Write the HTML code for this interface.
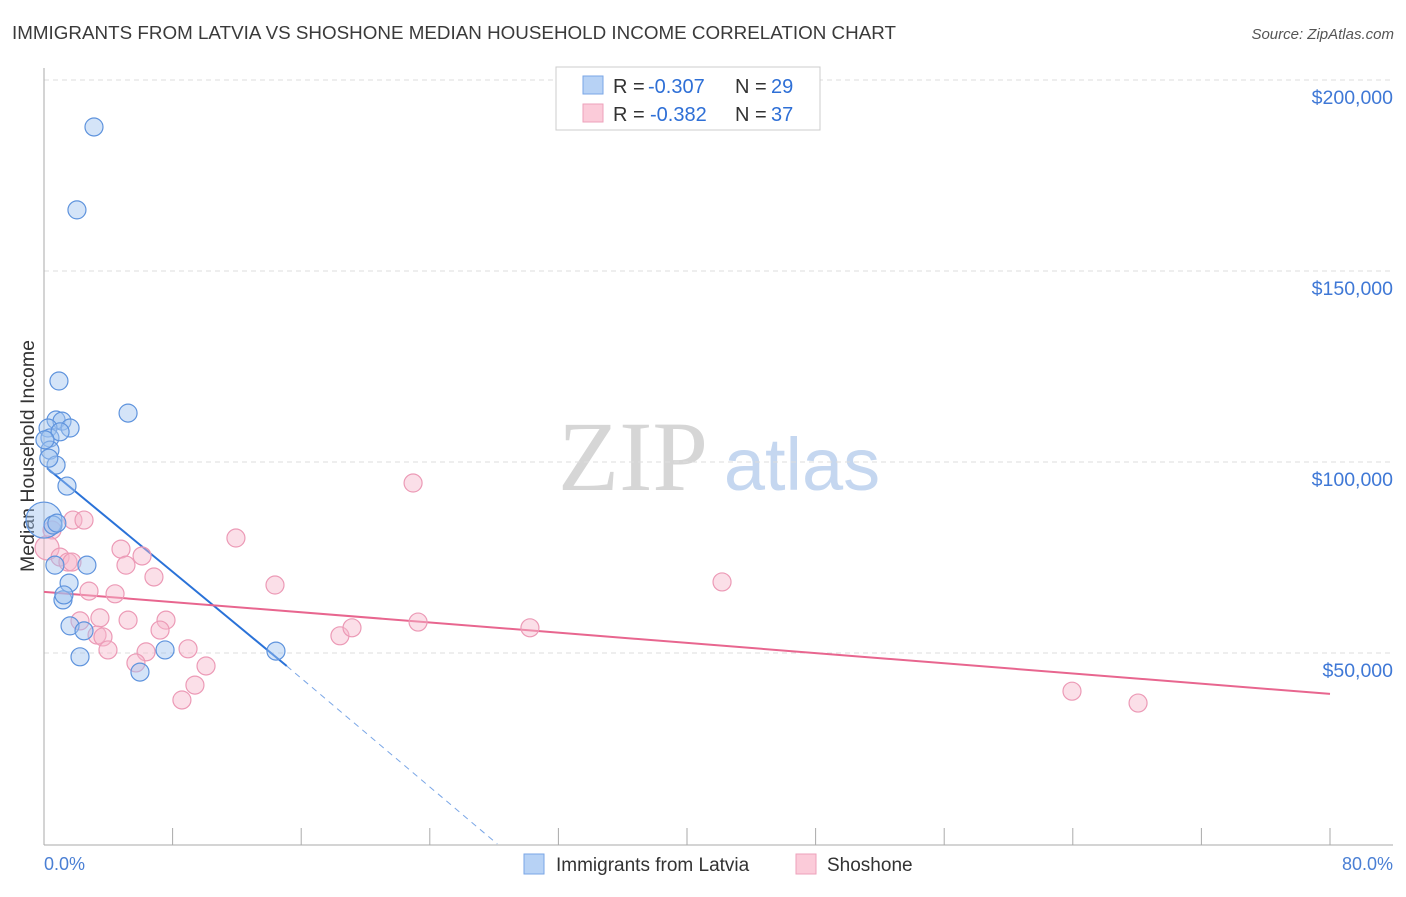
<!DOCTYPE html>
<html><head><meta charset="utf-8"><style>
body{margin:0;background:#fff;font-family:"Liberation Sans",sans-serif;}
</style></head><body>
<svg width="1406" height="892" xmlns="http://www.w3.org/2000/svg" style="font-family:'Liberation Sans',sans-serif">
<text x="12" y="39" font-size="18.8" fill="#3a3a3a" textLength="884">IMMIGRANTS FROM LATVIA VS SHOSHONE MEDIAN HOUSEHOLD INCOME CORRELATION CHART</text>
<text x="1394" y="39" font-size="15" fill="#555" font-style="italic" text-anchor="end">Source: ZipAtlas.com</text>
<g>
<text x="633" y="490" style="font-family:'Liberation Serif',serif;font-size:100px" fill="#d6d6d6" text-anchor="middle">ZIP</text>
<text x="802" y="490" style="font-size:74px" fill="#c5d7f0" text-anchor="middle">atlas</text>
</g>
<g id="grid"></g>
<g id="axes"></g>
<text transform="translate(34,456) rotate(-90)" font-size="19.5" fill="#333" text-anchor="middle">Median Household Income</text>
<text x="44" y="870" font-size="18" fill="#4a7fd4">0.0%</text>
<text x="1393" y="870" font-size="18" fill="#4a7fd4" text-anchor="end">80.0%</text>
<g id="lines"></g>
<g id="pts"></g>
<g>
<rect x="556" y="67" width="264" height="63" fill="#fff" stroke="#ccc"/>
<rect x="583" y="76" width="20" height="18" fill="#b7d2f5" stroke="#7aa6e6"/>
<rect x="583" y="104" width="20" height="18" fill="#fbcbd9" stroke="#eea1bb"/>
<text x="613" y="93" font-size="20" fill="#333">R =</text>
<text x="648" y="93" font-size="20" fill="#2e6fd6">-0.307</text>
<text x="735" y="93" font-size="20" fill="#333">N =</text>
<text x="771" y="93" font-size="20" fill="#2e6fd6">29</text>
<text x="613" y="121" font-size="20" fill="#333">R =</text>
<text x="650" y="121" font-size="20" fill="#2e6fd6">-0.382</text>
<text x="735" y="121" font-size="20" fill="#333">N =</text>
<text x="771" y="121" font-size="20" fill="#2e6fd6">37</text>
</g>
<g>
<rect x="524" y="854" width="20" height="20" fill="#b7d2f5" stroke="#7aa6e6"/>
<text x="556" y="871" font-size="19" fill="#333">Immigrants from Latvia</text>
<rect x="796" y="854" width="20" height="20" fill="#fbcbd9" stroke="#eea1bb"/>
<text x="827" y="871" font-size="19" fill="#333">Shoshone</text>
</g>
</svg>
<script>
const yTicks=[50000,100000,150000,200000];
const yTickLabels=["$50,000","$100,000","$150,000","$200,000"];
const latviaX=[3.11,2.05,0.93,5.23,0.75,1.12,1.62,0.25,0.37,0.37,0.75,1.43,0,0.56,0.68,2.67,1.56,1.18,1.24,1.62,2.49,2.24,7.53,5.97,14.43,1.0,0.06,0.3,0.8];
const latviaY=[187700,166000,121200,112800,111000,110700,108900,108900,106300,103100,99200,93700,84800,83500,73000,73000,68300,63900,65200,57100,55800,49000,50800,45000,50500,107900,105800,101000,84000];
const shoX=[0.5,1.8,2.49,0.19,1.0,1.49,1.74,4.79,6.1,5.1,6.84,11.94,22.96,14.37,2.8,4.42,3.48,2.24,5.23,7.59,7.22,3.3,3.67,3.98,6.35,8.96,5.72,10.08,9.39,8.58,18.41,19.16,23.27,30.23,42.18,63.95,68.06];
const shoY=[82200,84800,84800,77500,75100,73800,73800,77200,75400,73000,69900,80100,94500,67800,66200,65500,59200,58400,58600,58600,56000,54700,54200,50800,50300,51100,47400,46600,41600,37700,54500,56600,58100,56600,68600,40000,36900];
const latviaTrend=[[0.19,98400],[15.1,46600]];
const latviaTrendExt=[[15.1,46600],[28.2,0]];
const shoTrend=[[0,66000],[80,39300]];
const NS="http://www.w3.org/2000/svg";
const X=v=>44+v/80*1286, Y=v=>844-v/50000*191;
function mk(t,a,p){const e=document.createElementNS(NS,t);for(const k in a)e.setAttribute(k,a[k]);p.appendChild(e);return e;}
const grid=document.getElementById('grid'),axes=document.getElementById('axes');
yTicks.forEach((t,i)=>{
 const l=mk('line',{x1:44,x2:1393,y1:Y(t),y2:Y(t),stroke:'#ddd','stroke-dasharray':'5,4'},grid);
 
 
 const tx=mk('text',{x:1393,y:Y(t)+24,'font-size':19.5,fill:'#3f78d6','text-anchor':'end'},grid);
 tx.textContent=yTickLabels[i];
 
 
});
const al=mk('line',{x1:44,x2:44,y1:68,y2:845,stroke:'#aaa'},axes);


const bl=mk('line',{x1:44,x2:1393,y1:845,y2:845,stroke:'#aaa'},axes);


for(let i=0;i<=10;i++){const t=mk('line',{x1:X(i*8),x2:X(i*8),y1:828,y2:845,stroke:'#aaa'},axes);
 
 }
const pts=document.getElementById('pts');
shoX.forEach((x,i)=>{const c=mk('circle',{cx:X(x),cy:Y(shoY[i]),r:i===3?12:9,fill:'rgba(246,184,204,0.45)',stroke:'#ec9ab6','stroke-width':1.2},pts);
 
 });
latviaX.forEach((x,i)=>{const c=mk('circle',{cx:X(x),cy:Y(latviaY[i]),r:i===12?18:9,fill:'rgba(160,196,240,0.45)',stroke:'#5e93dd','stroke-width':1.2},pts);
 
 });
const lines=document.getElementById('lines');
let l1=mk('line',{x1:X(latviaTrend[0][0]),y1:Y(latviaTrend[0][1]),x2:X(latviaTrend[1][0]),y2:Y(latviaTrend[1][1]),stroke:'#2a72d8','stroke-width':2},lines);


let l2=mk('line',{x1:X(latviaTrendExt[0][0]),y1:Y(latviaTrendExt[0][1]),x2:X(latviaTrendExt[1][0]),y2:Y(latviaTrendExt[1][1]),stroke:'#7aa6e6','stroke-width':1,'stroke-dasharray':'6,5'},lines);


let l3=mk('line',{x1:X(shoTrend[0][0]),y1:Y(shoTrend[0][1]),x2:X(shoTrend[1][0]),y2:Y(shoTrend[1][1]),stroke:'#e8668f','stroke-width':2},lines);


</script>
</body></html>
